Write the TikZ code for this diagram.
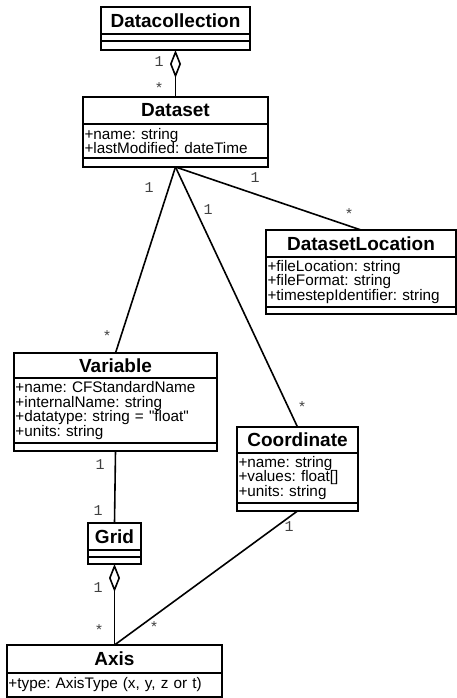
\documentclass[tikz,border=0pt]{standalone}
\usepackage{fontspec}
\setmainfont{Liberation Sans}[Ligatures=TeXOff]
\newfontfamily\multfont{Liberation Mono}
\frenchspacing
\usetikzlibrary{positioning,arrows.meta}

\tikzset{
  clsname/.style={draw,line width=1.8pt,outer sep=0pt,inner sep=0pt,anchor=north,
    font=\fontsize{19}{21}\selectfont\bfseries},
  clsattr/.style={draw,line width=1.8pt,outer sep=0pt,inner xsep=1.5pt,inner ysep=0pt,
    align=left,font=\fontsize{15.3}{14.7}\selectfont},
  clsops/.style={draw,line width=1.8pt,outer sep=0pt,inner sep=0pt},
  assoc/.style={line width=1.6pt},
  aggr/.style={line width=1.6pt,{Diamond[open,length=28pt,width=11pt]}-},
  mult/.style={inner sep=0pt,text=black!75,font=\multfont\fontsize{15}{15}\selectfont}
}

\begin{document}
\begin{tikzpicture}[x=1pt,y=-1pt]
\useasboundingbox (0,0) rectangle (457,698);

% Datacollection
\node[clsname,minimum width=149,minimum height=27] (dcoll) at (175.5,7) {Datacollection};
\node[clsops,minimum width=149,minimum height=7,below=0pt of dcoll] (dcollA) {};
\node[clsops,minimum width=149,minimum height=9,below=0pt of dcollA] (dcollO) {};

% Dataset
\node[clsname,minimum width=185,minimum height=27] (ds) at (175.5,97) {Dataset};
\node[clsattr,text width=182,minimum height=34,below=0pt of ds] (dsA)
  {+name: string\\+lastModified: dateTime};
\node[clsops,minimum width=185,minimum height=9,below=0pt of dsA] (dsO) {};

% DatasetLocation
\node[clsname,minimum width=190,minimum height=27] (dsloc) at (361,230) {DatasetLocation};
\node[clsattr,text width=187,minimum height=50,below=0pt of dsloc] (dslocA)
  {+fileLocation: string\\+fileFormat: string\\+timestepIdentifier: string};
\node[clsops,minimum width=190,minimum height=7,below=0pt of dslocA] (dslocO) {};

% Variable
\node[clsname,minimum width=203,minimum height=25] (var) at (115.5,353) {Variable};
\node[clsattr,text width=200,minimum height=65,below=0pt of var] (varA)
  {+name: CFStandardName\\+internalName: string\\+datatype: string = "float"\\+units: string};
\node[clsops,minimum width=203,minimum height=8,below=0pt of varA] (varO) {};

% Coordinate
\node[clsname,minimum width=121,minimum height=26] (coord) at (297.5,427) {Coordinate};
\node[clsattr,text width=118,minimum height=50,below=0pt of coord] (coordA)
  {+name: string\\+values: float[]\\+units: string};
\node[clsops,minimum width=121,minimum height=8,below=0pt of coordA] (coordO) {};

% Grid
\node[clsname,minimum width=53,minimum height=27] (grid) at (114.5,523) {Grid};
\node[clsops,minimum width=53,minimum height=7,below=0pt of grid] (gridA) {};
\node[clsops,minimum width=53,minimum height=7,below=0pt of gridA] (gridO) {};

% Axis
\node[clsname,minimum width=215,minimum height=28] (axis) at (114.5,645) {Axis};
\node[clsattr,text width=212,minimum height=24,below=0pt of axis] (axisA)
  {+type: AxisType (x, y, z or t)};
\node[clsops,minimum width=215,minimum height=9,below=0pt of axisA] (axisO) {};

% connectors
\draw[aggr] (dcollO.south) -- (ds.north);
\draw[assoc] (dsO.south) -- (var.north);
\draw[assoc] (dsO.south) -- (coord.north);
\draw[assoc] (dsO.south) -- (dsloc.north);
\draw[assoc] (varO.south) -- (grid.north);
\draw[aggr] (gridO.south) -- (axis.north);
\draw[assoc] (coordO.south) -- (axis.north);

% multiplicities
\node[mult] (m1) at (159,62) {1};
\node[mult] (m2) at (159,88) {*};
\node[mult] (m3) at (149,188) {1};
\node[mult] (m4) at (107,336) {*};
\node[mult] (m5) at (208,210) {1};
\node[mult] (m6) at (302,407) {*};
\node[mult] (m7) at (255,178) {1};
\node[mult] (m8) at (349,214) {*};
\node[mult] (m9) at (100,465) {1};
\node[mult] (m10) at (98,511) {1};
\node[mult] (m11) at (98,588) {1};
\node[mult] (m12) at (99,630) {*};
\node[mult] (m13) at (289,527) {1};
\node[mult] (m14) at (154,627) {*};
\end{tikzpicture}
\end{document}
